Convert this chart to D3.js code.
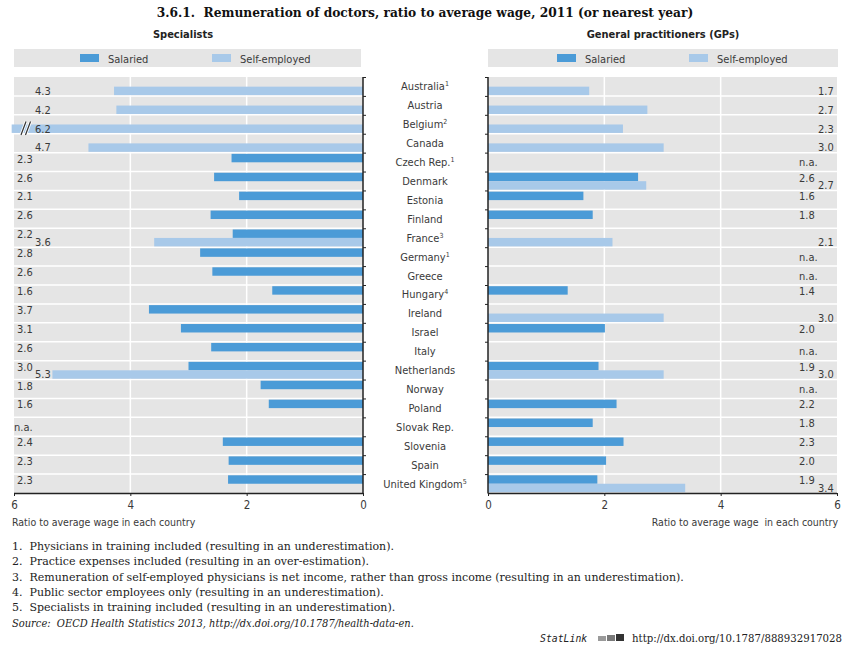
<!DOCTYPE html>
<html><head><meta charset="utf-8">
<script src="https://cdn.jsdelivr.net/npm/d3@7"></script>
<style>
body{margin:0;background:#fff;}
svg{display:block;}
.sans{font-family:"Liberation Sans Narrow","DejaVu Sans Condensed","Liberation Sans",sans-serif;}
.serif{font-family:"DejaVu Serif Condensed","DejaVu Serif","Liberation Serif",serif;}
.serifw{font-family:"DejaVu Serif","Liberation Serif",serif;}
</style></head>
<body>
<svg id="c" width="859" height="652"></svg>
<script>
const countries = ["Australia","Austria","Belgium","Canada","Czech Rep.","Denmark","Estonia","Finland","France","Germany","Greece","Hungary","Ireland","Israel","Italy","Netherlands","Norway","Poland","Slovak Rep.","Slovenia","Spain","United Kingdom"];
const countryNotes = ["1","","2","","1","","","","3","1","","4","","","","","","","","","","5"];
// Specialists (null = not shown / n.a.)
const specSalaried = [null,null,null,null,2.26,2.56,2.13,2.62,2.24,2.80,2.59,1.56,3.68,3.13,2.61,3.00,1.76,1.62,null,2.41,2.31,2.32];
const specSelf     = [4.28,4.24,6.2,4.72,null,null,null,null,3.59,null,null,null,null,null,null,5.34,null,null,null,null,null,null];
const specNA       = [false,false,false,false,false,false,false,false,false,false,false,false,false,false,false,false,false,false,true,false,false,false];
// General practitioners
const gpSalaried = [null,null,null,null,null,2.58,1.64,1.80,null,null,null,1.37,null,2.01,null,1.90,null,2.21,1.80,2.33,2.03,1.88];
const gpSelf     = [1.74,2.74,2.32,3.02,null,2.72,null,null,2.14,null,null,null,3.02,null,null,3.02,null,null,null,null,null,3.39];
const gpNA       = [false,false,false,false,true,false,false,false,false,true,true,false,false,false,true,false,true,false,false,false,false,false];
const xTicks = [0,2,4,6];
const footnotes = [
 "1.  Physicians in training included (resulting in an underestimation).",
 "2.  Practice expenses included (resulting in an over-estimation).",
 "3.  Remuneration of self-employed physicians is net income, rather than gross income (resulting in an underestimation).",
 "4.  Public sector employees only (resulting in an underestimation).",
 "5.  Specialists in training included (resulting in an underestimation)."
];

const C_SAL = "#4b9bd7", C_SELF = "#a8c9e9", C_BG = "#e5e5e5", C_TXT = "#3a3a3a";
const svg = d3.select("#c");
const fmt = d3.format(".1f");

// Title
svg.append("text").attr("x",425).attr("y",17).attr("text-anchor","middle").attr("xml:space","preserve")
  .attr("class","serif").attr("font-weight","bold").attr("font-size",13.6).attr("fill","#111")
  .text("3.6.1.  Remuneration of doctors, ratio to average wage, 2011 (or nearest year)");

const plotTop = 77, plotBottom = 493;
const y = d3.scaleBand().domain(countries).range([plotTop,plotBottom]).padding(0);
const bw = y.bandwidth();
const sub = d3.scaleBand().domain(["sal","self"]).range([1.2,bw-0.8]).padding(0);

function panel(opts){
  const {x, sal, self, na, title, titleX, legendX0, legendX1, side} = opts;
  const g = svg.append("g");
  const r0 = Math.min(x(0),x(6)), r1 = Math.max(x(0),x(6));
  g.append("text").attr("x",titleX).attr("y",38).attr("text-anchor","middle").attr("class","sans")
    .attr("font-weight","bold").attr("font-size",11).attr("fill","#222").text(title);
  g.append("rect").attr("x",legendX0).attr("y",49).attr("width",legendX1-legendX0).attr("height",18).attr("fill",C_BG);
  const lx = legendX0 + (side==="L"?66:69);
  const items = [["Salaried",C_SAL,0],["Self-employed",C_SELF,132]];
  items.forEach(([t,c,dx])=>{
    g.append("rect").attr("x",lx+dx).attr("y",54).attr("width",19).attr("height",8).attr("fill",c);
    g.append("text").attr("x",lx+dx+28).attr("y",62.5).attr("class","sans").attr("font-size",11).attr("fill",C_TXT).text(t);
  });
  g.append("rect").attr("x",r0).attr("y",plotTop).attr("width",r1-r0).attr("height",plotBottom-plotTop).attr("fill",C_BG);
  g.selectAll(".vg").data([2,4]).join("line").attr("x1",d=>x(d)).attr("x2",d=>x(d))
    .attr("y1",plotTop).attr("y2",plotBottom).attr("stroke","#fff").attr("stroke-width",1.5);
  g.selectAll(".hg").data(countries.slice(1)).join("line").attr("x1",r0).attr("x2",r1)
    .attr("y1",d=>y(d)).attr("y2",d=>y(d)).attr("stroke","#fff").attr("stroke-width",1.5);
  const clampV = v => Math.min(v, 6.04);
  countries.forEach((c,i)=>{
    [["sal",sal[i],C_SAL],["self",self[i],C_SELF]].forEach(([k,v,col])=>{
      if(v==null) return;
      const xa = x(0), xb = x(clampV(v));
      g.append("rect").attr("x",Math.min(xa,xb)).attr("width",Math.abs(xb-xa))
        .attr("y",y(c)+sub(k)).attr("height",sub.bandwidth()).attr("fill",col);
    });
  });
  const salX = side==="L" ? 17 : 799, selfX = side==="L" ? 35 : 818;
  countries.forEach((c,i)=>{
    const t0 = y(c);
    if(na[i]){
      g.append("text").attr("x",side==="L"?14:799).attr("y",t0+bw/2+4).attr("class","sans")
        .attr("font-size",11).attr("fill",C_TXT).text("n.a.");
      return;
    }
    if(sal[i]!=null) g.append("text").attr("x",salX).attr("y",t0+6+4).attr("class","sans")
        .attr("font-size",11).attr("fill",C_TXT).text(fmt(sal[i]));
    if(self[i]!=null) g.append("text").attr("x",selfX).attr("y",t0+13.7+4).attr("class","sans")
        .attr("font-size",11).attr("fill",C_TXT).text(fmt(self[i]));
  });
  const ax0 = x(0);
  g.append("line").attr("x1",ax0).attr("x2",ax0).attr("y1",plotTop).attr("y2",plotBottom+0.5).attr("stroke","#222").attr("stroke-width",1.5);
  const tickDir = side==="L" ? 1 : -1;
  g.selectAll(".rt").data(countries).join("line")
    .attr("x1",ax0).attr("x2",ax0+tickDir*3).attr("y1",d=>y(d)+0.5).attr("y2",d=>y(d)+0.5)
    .attr("stroke","#222").attr("stroke-width",1);
  const xa = d3.axisBottom(x).tickValues(xTicks).tickFormat(d3.format("d")).tickSize(3).tickPadding(5);
  const ag = g.append("g").attr("transform",`translate(0,${plotBottom})`).call(xa);
  ag.select(".domain").attr("stroke","#222").attr("stroke-width",1.5).attr("d",`M${r0},0.5H${r1}`);
  ag.selectAll(".tick line").attr("stroke","#222");
  ag.selectAll(".tick text").attr("class","sans").attr("font-size",11.5).attr("fill",C_TXT);
  g.append("text").attr("x",side==="L"?12:838).attr("y",526).attr("text-anchor",side==="L"?"start":"end")
    .attr("class","sans").attr("font-size",10.5).attr("fill",C_TXT).attr("xml:space","preserve")
    .text(side==="L"?"Ratio to average wage in each country":"Ratio to average wage  in each country");
  return g;
}

const xL = d3.scaleLinear().domain([0,6]).range([363,14]);
const xR = d3.scaleLinear().domain([0,6]).range([488,837]);
panel({x:xL, sal:specSalaried, self:specSelf, na:specNA, title:"Specialists", titleX:183, legendX0:14, legendX1:361, side:"L"});
panel({x:xR, sal:gpSalaried, self:gpSelf, na:gpNA, title:"General practitioners (GPs)", titleX:663, legendX0:488, legendX1:838, side:"R"});

// axis break marks on Belgium self-employed bar
const bi = countries.indexOf("Belgium");
const by = y(countries[bi]) + sub("self");
[0,4.5].forEach(dx=>{
  svg.append("line").attr("x1",21+dx).attr("y1",by+sub.bandwidth()+2).attr("x2",26+dx).attr("y2",by-3)
    .attr("stroke","#fff").attr("stroke-width",3);
});
[0,4.5].forEach(dx=>{
  svg.append("line").attr("x1",21+dx).attr("y1",by+sub.bandwidth()+2).attr("x2",26+dx).attr("y2",by-3)
    .attr("stroke","#333").attr("stroke-width",1.2);
});

// country labels
const cl = svg.append("g");
countries.forEach((c,i)=>{
  const t = cl.append("text").attr("x",425).attr("y",y(c)+bw/2+4).attr("text-anchor","middle")
    .attr("class","sans").attr("font-size",11).attr("fill",C_TXT);
  t.append("tspan").text(c);
  if(countryNotes[i]) t.append("tspan").attr("font-size",7).attr("dy",-4).text(countryNotes[i]);
});

// footnotes
const fn = svg.append("g").attr("class","serifw").attr("font-size",11).attr("fill","#222");
footnotes.forEach((f,i)=>{
  fn.append("text").attr("x",12).attr("y",550+i*15.3).attr("xml:space","preserve").text(f);
});
fn.append("text").attr("x",12).attr("y",550+5*15.3).attr("class","serif").attr("font-style","italic").attr("xml:space","preserve")
  .text("Source:  OECD Health Statistics 2013, http://dx.doi.org/10.1787/health-data-en.");

// StatLink
svg.append("text").attr("x",540).attr("y",642).attr("font-family","DejaVu Sans Mono, monospace")
  .attr("font-style","italic").attr("font-size",9.8).attr("fill","#222").text("StatLink");
const ic = svg.append("g").attr("transform","translate(598,634)");
ic.append("rect").attr("x",0).attr("y",2).attr("width",8).attr("height",5).attr("fill","#9a9a9a");
ic.append("rect").attr("x",9).attr("y",1).attr("width",8).attr("height",6).attr("fill","#7a7a7a");
ic.append("rect").attr("x",18).attr("y",0).attr("width",8).attr("height",7).attr("fill","#333");
svg.append("text").attr("x",842).attr("y",642).attr("text-anchor","end").attr("class","serif")
  .attr("font-size",11.3).attr("fill","#222").text("http://dx.doi.org/10.1787/888932917028");
</script>
</body></html>
